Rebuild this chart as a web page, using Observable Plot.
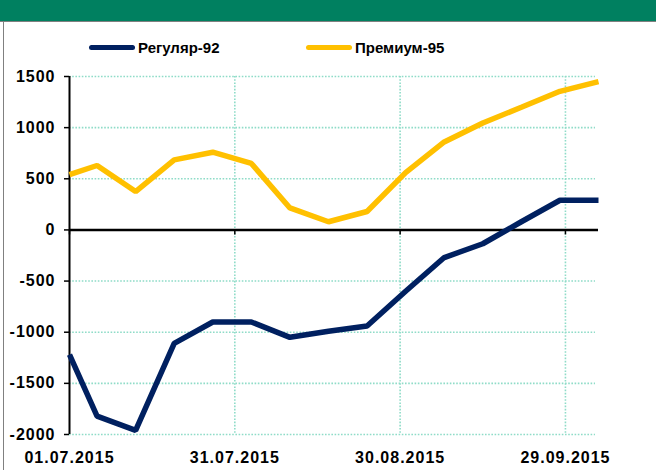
<!DOCTYPE html>
<html>
<head>
<meta charset="utf-8">
<script src="https://cdn.jsdelivr.net/npm/d3@7"></script>
<script src="https://cdn.jsdelivr.net/npm/@observablehq/plot@0.6"></script>
<style>
  html, body { margin: 0; padding: 0; background: #fff; }
  #page { position: relative; width: 656px; height: 470px; overflow: hidden; background: #fff; font-family: "Liberation Sans", Arial, sans-serif; }
  #header { position: absolute; left: 0; top: 0; width: 656px; height: 21px; background: #008060; border-bottom: 1px solid #808080; }
  #leftborder { position: absolute; left: 3px; top: 22px; width: 1px; height: 448px; background: #808080; }
  .sw { position: absolute; top: 45px; width: 46px; height: 5px; border-radius: 3px; }
  .lt { position: absolute; top: 38px; font-size: 15px; font-weight: bold; line-height: 19px; color: #000; }
  #chart { position: absolute; left: 0; top: 60px; }
  #chart svg text { letter-spacing: 1px; }
</style>
</head>
<body>
<div id="page">
  <div id="header"></div>
  <div id="leftborder"></div>
  <div id="legend"></div>
  <div id="chart"></div>
</div>
<script>
const dates = ["2015-07-01","2015-07-06","2015-07-13","2015-07-20","2015-07-27","2015-08-03","2015-08-10","2015-08-17","2015-08-24","2015-08-31","2015-09-07","2015-09-14","2015-09-21","2015-09-28","2015-10-05"];
const regular92 = [-1220,-1820,-1960,-1110,-900,-900,-1050,-990,-940,-600,-270,-135,80,290,290];
const premium95 = [540,630,375,685,760,650,215,80,180,560,860,1045,1200,1355,1450];
const seriesNames = ["Регуляр-92", "Премиум-95"];
const seriesColors = ["#002060", "#FFC000"];
const xTickDates = ["2015-07-01","2015-07-31","2015-08-30","2015-09-29"];
const yTicks = [-2000,-1500,-1000,-500,0,500,1000,1500];

const parse = d3.utcParse("%Y-%m-%d");
const fmt = d3.utcFormat("%d.%m.%Y");
const X = dates.map(parse);
const xT = xTickDates.map(parse);
const rows = [];
X.forEach((d, i) => {
  rows.push({date: d, value: regular92[i], series: seriesNames[0]});
  rows.push({date: d, value: premium95[i], series: seriesNames[1]});
});

// legend
const legend = document.getElementById("legend");
const swLeft = [89, 306];
seriesNames.forEach((n, i) => {
  const s = document.createElement("div");
  s.className = "sw"; s.style.left = swLeft[i] + "px"; s.style.background = seriesColors[i];
  legend.appendChild(s);
  const t = document.createElement("div");
  t.className = "lt"; t.style.left = (swLeft[i] + 49) + "px"; t.textContent = n;
  legend.appendChild(t);
});

const grid = {stroke: "#8fdcc8", strokeWidth: 1.6, strokeDasharray: "1.6,1.6"};
const chart = Plot.plot({
  width: 656,
  height: 410,
  marginTop: 16,
  marginBottom: 36,
  marginLeft: 69,
  marginRight: 58,
  style: {fontFamily: "'Liberation Sans', Arial, sans-serif", background: "transparent", color: "#000"},
  x: {type: "utc", domain: [X[0], X[X.length - 1]], label: null},
  y: {domain: [-2000, 1500], label: null},
  marks: [
    Plot.ruleY(yTicks.filter(d => d !== 0), {y: d => d, ...grid, insetRight: 3}),
    Plot.ruleX(xT.slice(1), {x: d => d, ...grid}),
    Plot.ruleX([X[0]], {x: d => d, stroke: "#000", strokeWidth: 2}),
    Plot.ruleY([0], {y: d => d, stroke: "#000", strokeWidth: 2.5}),
    Plot.ruleX(xT, {x: d => d, y1: 0, y2: 0, insetBottom: -5, stroke: "#000", strokeWidth: 1.5}),
    Plot.axisY({ticks: yTicks, tickFormat: d => String(d), tickSize: 5, tickPadding: 9, fontSize: 16, fontWeight: "bold", stroke: "#000", strokeWidth: 1.5, label: null}),
    Plot.axisX({ticks: xT, tickFormat: fmt, tickSize: 0, tickPadding: 17, fontSize: 16, fontWeight: "bold", label: null}),
    Plot.lineY(rows, {x: "date", y: "value", z: "series", stroke: d => seriesColors[seriesNames.indexOf(d.series)], strokeWidth: 5.5, strokeLinejoin: "miter", strokeLinecap: "butt"})
  ]
});
document.getElementById("chart").appendChild(chart);
</script>
</body>
</html>
